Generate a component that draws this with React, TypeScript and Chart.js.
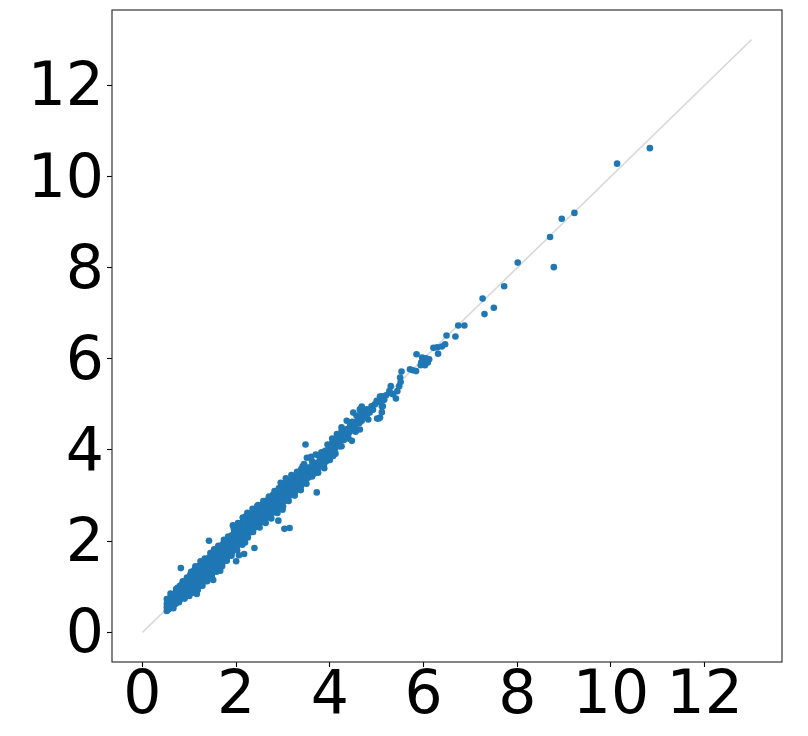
import React, { useEffect, useRef } from "react";
import { Chart, registerables } from "chart.js";

Chart.register(...registerables);

// Axis range and tick labels
const axisMin = -0.65;
const axisMax = 13.65;
const tickStep = 2;
const tickLabels = ["0", "2", "4", "6", "8", "10", "12"];

// Reference diagonal (y = x)
const diagonalX = [0, 13];
const diagonalY = [0, 13];

// Dense band, read as columns: [x, list of y values]
const bandLow: [number, number[]][] = [
  [0.52, [0.47, 0.55, 0.63, 0.73]],
  [0.55, [0.5, 0.58, 0.68]],
  [0.59, [0.53, 0.61, 0.7, 0.76]],
  [0.63, [0.56, 0.64, 0.72, 0.8]],
  [0.67, [0.6, 0.67, 0.75, 0.84]],
  [0.71, [0.63, 0.71, 0.79, 0.88]],
  [0.75, [0.67, 0.75, 0.83, 0.92, 0.98]],
  [0.8, [0.72, 0.79, 0.87, 0.95, 1.02]],
  [0.84, [0.75, 0.83, 0.91, 0.99, 1.05]],
  [0.88, [0.78, 0.86, 0.94, 1.02, 1.09]],
  [0.93, [0.81, 0.89, 0.97, 1.05, 1.13]],
  [0.97, [0.84, 0.92, 1.0, 1.08, 1.17]],
  [1.02, [0.87, 0.95, 1.03, 1.12, 1.2, 1.26]],
  [1.06, [0.9, 0.98, 1.07, 1.16, 1.24, 1.31]],
  [1.11, [0.94, 1.02, 1.11, 1.2, 1.29, 1.37]],
  [1.16, [0.97, 1.06, 1.15, 1.24, 1.33, 1.41]],
  [1.21, [1.01, 1.1, 1.19, 1.28, 1.37, 1.46]],
];

const bandMid: [number, number[]][] = [
  [1.26, [1.06, 1.15, 1.24, 1.33, 1.42, 1.5]],
  [1.31, [1.11, 1.2, 1.29, 1.38, 1.47, 1.54]],
  [1.36, [1.17, 1.26, 1.35, 1.43, 1.51, 1.58]],
  [1.41, [1.23, 1.31, 1.4, 1.48, 1.56, 1.63]],
  [1.46, [1.28, 1.36, 1.45, 1.53, 1.61, 1.68]],
  [1.51, [1.33, 1.41, 1.5, 1.58, 1.66, 1.73]],
  [1.56, [1.37, 1.46, 1.55, 1.63, 1.71, 1.78]],
  [1.61, [1.41, 1.5, 1.59, 1.68, 1.76, 1.83]],
  [1.66, [1.47, 1.56, 1.64, 1.73, 1.81, 1.88]],
  [1.71, [1.53, 1.61, 1.7, 1.78, 1.86, 1.93]],
  [1.76, [1.59, 1.67, 1.75, 1.83, 1.91, 1.98]],
  [1.81, [1.65, 1.73, 1.81, 1.89, 1.96, 2.03]],
  [1.86, [1.7, 1.78, 1.86, 1.94, 2.02, 2.08]],
  [1.91, [1.75, 1.83, 1.91, 1.99, 2.07, 2.13]],
  [1.96, [1.81, 1.89, 1.97, 2.05, 2.13, 2.2]],
];

const bandUpper: [number, number[]][] = [
  [2.01, [1.87, 1.95, 2.03, 2.11, 2.19, 2.27]],
  [2.06, [1.93, 2.01, 2.09, 2.17, 2.26, 2.34]],
  [2.11, [1.99, 2.07, 2.15, 2.23, 2.32, 2.4]],
  [2.16, [2.05, 2.13, 2.21, 2.29, 2.38, 2.46]],
  [2.21, [2.11, 2.19, 2.27, 2.35, 2.44, 2.55]],
  [2.26, [2.16, 2.24, 2.32, 2.4, 2.49, 2.56]],
  [2.31, [2.21, 2.29, 2.37, 2.45, 2.53, 2.6]],
  [2.37, [2.27, 2.35, 2.43, 2.51, 2.58, 2.65]],
  [2.43, [2.32, 2.4, 2.48, 2.56, 2.64, 2.7]],
  [2.47, [2.79]],
  [2.49, [2.37, 2.45, 2.53, 2.61, 2.69, 2.75]],
  [2.55, [2.42, 2.5, 2.58, 2.66, 2.74, 2.8]],
  [2.61, [2.47, 2.55, 2.63, 2.71, 2.79, 2.85]],
  [2.67, [2.52, 2.6, 2.68, 2.76, 2.84, 2.9]],
  [2.73, [2.57, 2.65, 2.73, 2.81, 2.89, 2.95]],
];

const bandTop: [number, number[]][] = [
  [2.79, [2.63, 2.71, 2.79, 2.87, 2.95, 3.02]],
  [2.85, [2.69, 2.77, 2.85, 2.93, 3.01, 3.09]],
  [2.91, [2.75, 2.84, 2.92, 3.0, 3.08, 3.16]],
  [2.97, [2.82, 2.9, 2.98, 3.06, 3.14, 3.22]],
  [3.03, [2.88, 2.97, 3.05, 3.13, 3.21, 3.27]],
  [3.09, [2.94, 3.03, 3.11, 3.19, 3.27, 3.32]],
  [3.15, [3.0, 3.09, 3.17, 3.25, 3.33]],
  [3.21, [3.05, 3.14, 3.22, 3.3, 3.38]],
  [3.27, [3.1, 3.19, 3.27, 3.35, 3.44]],
  [3.33, [3.15, 3.24, 3.32, 3.4, 3.48]],
  [3.39, [3.22, 3.3, 3.38, 3.46, 3.52, 3.58]],
  [3.45, [3.3, 3.37, 3.45, 3.52, 3.58, 3.69]],
  [3.51, [3.38, 3.45, 3.52, 3.6, 3.83]],
];

// Ragged edges of the dense band: [x, y]
const bandEdgeUpper: [number, number][] = [
  [0.6, 0.85], [0.72, 0.95], [0.86, 1.12], [0.95, 1.2], [1.04, 1.33], [1.13, 1.45],
  [1.24, 1.56], [1.33, 1.62], [1.45, 1.74], [1.53, 1.82], [1.62, 1.9], [1.74, 2.03],
  [1.83, 2.1], [1.95, 2.27], [2.04, 2.4], [2.14, 2.52], [2.24, 2.62], [2.35, 2.71],
  [2.45, 2.77], [2.58, 2.88], [2.7, 2.98], [2.82, 3.1], [2.95, 3.28], [3.06, 3.38],
  [3.18, 3.45], [3.3, 3.52], [3.42, 3.64], [3.6, 3.85], [3.7, 3.9], [3.82, 3.95],
  [3.95, 4.12], [4.05, 4.25], [4.15, 4.35], [4.25, 4.5],
];

const bandEdgeLower: [number, number][] = [
  [0.66, 0.53], [0.78, 0.66], [0.9, 0.74], [1.0, 0.8], [1.08, 0.87], [1.18, 0.93],
  [1.28, 1.02], [1.38, 1.12], [1.48, 1.24], [1.58, 1.33], [1.7, 1.45], [1.8, 1.57],
  [1.9, 1.68], [2.02, 1.8], [2.13, 1.92], [2.25, 2.08], [2.36, 2.2], [2.5, 2.3],
  [2.63, 2.4], [2.75, 2.5], [2.88, 2.62], [3.0, 2.76], [3.12, 2.88], [3.25, 3.0],
  [3.38, 3.12], [3.5, 3.26], [3.62, 3.42], [3.75, 3.5], [3.88, 3.6], [4.0, 3.78],
  [4.12, 3.92], [4.25, 4.08], [4.4, 4.25], [4.55, 4.4],
];

// Sparser upper tail: [x, y]
const tailPoints: [number, number][] = [
  [3.55, 3.4], [3.56, 3.62], [3.58, 3.54], [3.6, 3.5], [3.62, 3.75], [3.65, 3.65],
  [3.66, 3.48], [3.68, 3.58], [3.7, 3.65], [3.72, 3.72], [3.74, 3.56], [3.76, 3.88],
  [3.79, 3.8], [3.8, 3.68], [3.83, 3.65], [3.85, 3.78], [3.86, 3.87], [3.88, 3.7],
  [3.9, 3.98], [3.92, 3.86], [3.93, 3.76], [3.95, 3.95], [3.97, 4.02], [3.98, 3.82],
  [4.0, 3.91], [4.02, 3.98], [4.04, 4.09], [4.05, 4.15], [4.07, 3.87], [4.07, 4.2],
  [4.1, 3.98], [4.11, 4.05], [4.13, 4.12], [4.15, 4.27], [4.16, 4.22], [4.18, 4.16],
  [4.2, 4.08], [4.22, 4.31], [4.23, 4.2], [4.25, 4.42], [4.27, 4.35], [4.29, 4.27],
  [4.3, 4.22], [4.32, 4.45], [4.34, 4.3], [4.36, 4.38], [4.36, 4.64], [4.38, 4.46],
  [4.4, 4.36], [4.43, 4.53], [4.45, 4.42], [4.48, 4.62], [4.5, 4.82], [4.52, 4.48],
  [4.54, 4.53], [4.56, 4.6], [4.57, 4.75], [4.6, 4.7], [4.63, 4.59], [4.64, 4.45],
  [4.64, 4.89], [4.66, 4.82], [4.68, 4.64], [4.68, 4.95], [4.72, 4.72], [4.75, 4.85],
  [4.79, 4.78], [4.79, 4.89], [4.82, 4.67], [4.85, 4.82], [4.89, 4.96], [4.92, 4.88],
  [4.96, 5.0], [5.0, 5.08], [5.01, 4.69], [5.04, 4.69], [5.06, 5.05], [5.07, 5.17],
  [5.07, 4.71], [5.11, 4.96], [5.11, 4.83], [5.11, 5.18], [5.13, 4.96], [5.16, 5.1],
  [5.2, 5.2], [5.27, 5.29], [5.3, 5.4], [5.32, 5.24], [5.35, 5.22], [5.41, 5.13],
  [5.44, 5.29], [5.48, 5.4], [5.5, 5.59], [5.51, 5.49], [5.53, 5.72], [5.71, 5.77],
  [5.77, 5.75], [5.84, 5.73], [5.85, 6.1], [5.94, 5.86], [5.95, 5.92], [5.97, 6.03],
  [6.01, 5.95], [6.03, 5.86], [6.05, 6.01], [6.09, 5.92], [6.12, 5.99], [6.21, 6.24],
  [6.29, 6.25], [6.31, 6.11], [6.39, 6.27], [6.46, 6.32], [6.49, 6.51], [6.68, 6.49],
  [6.74, 6.73], [6.87, 6.73], [7.26, 7.32], [7.3, 6.98], [7.5, 7.12], [7.72, 7.59],
  [8.01, 8.11], [8.7, 8.67], [8.78, 8.01], [8.95, 9.07], [9.22, 9.2], [10.13, 10.28],
  [10.83, 10.62],
];

// Isolated points away from the band: [x, y]
const outlierPoints: [number, number][] = [
  [0.82, 1.41], [1.16, 0.84], [1.42, 2.01], [1.51, 1.15], [1.66, 1.35], [2.0, 1.56],
  [2.06, 1.69], [2.17, 1.72], [2.19, 1.97], [1.93, 2.35], [2.39, 1.85], [2.9, 2.45],
  [2.99, 2.69], [3.03, 2.27], [3.14, 2.29], [3.72, 3.07], [3.48, 4.12], [4.47, 4.2],
];

function buildPoints() {
  const pts: { x: number; y: number }[] = [];
  [bandLow, bandMid, bandUpper, bandTop].forEach((cols) =>
    cols.forEach(([x, ys]) => ys.forEach((y) => pts.push({ x, y })))
  );
  [bandEdgeUpper, bandEdgeLower, tailPoints, outlierPoints].forEach((list) =>
    list.forEach(([x, y]) => pts.push({ x, y }))
  );
  return pts;
}

export default function App() {
  const ref = useRef<HTMLCanvasElement | null>(null);

  useEffect(() => {
    if (!ref.current) return;
    const font = { family: "'DejaVu Sans', sans-serif", size: 60, lineHeight: 1 };
    const axisCommon = (isX: boolean) => ({
      type: "linear" as const,
      min: axisMin,
      max: axisMax,
      grid: {
        display: true,
        drawOnChartArea: false,
        drawTicks: true,
        tickLength: 5,
        tickColor: "#000",
        tickWidth: 1.1,
        color: "#000",
      },
      border: { display: false },
      ticks: {
        stepSize: tickStep,
        includeBounds: false,
        color: "#000",
        font,
        padding: isX ? 0.5 : 3,
        labelOffset: isX ? 0 : 4.5,
        maxRotation: 0,
        autoSkip: false,
        callback: (v: number) => {
          const idx = Math.round(v / tickStep);
          return tickLabels[idx] ?? String(v);
        },
      },
      afterFit: (scale: any) => {
        if (isX) {
          scale.height = 74;
          scale.paddingLeft = 0;
          scale.paddingRight = 0;
        } else {
          scale.width = 112;
          scale.paddingTop = 0;
          scale.paddingBottom = 0;
        }
      },
    });

    const framePlugin = {
      id: "frame",
      afterDraw(chart: any) {
        const { ctx, chartArea } = chart;
        ctx.save();
        ctx.strokeStyle = "#222";
        ctx.lineWidth = 1.1;
        ctx.strokeRect(
          chartArea.left,
          chartArea.top,
          chartArea.right - chartArea.left,
          chartArea.bottom - chartArea.top
        );
        ctx.restore();
      },
    };

    const chart = new Chart(ref.current, {
      type: "scatter",
      data: {
        datasets: [
          {
            data: buildPoints(),
            backgroundColor: "#1f77b4",
            borderWidth: 0,
            pointRadius: 3.3,
            pointHoverRadius: 3.3,
            order: 0,
          },
          {
            data: diagonalX.map((x, i) => ({ x, y: diagonalY[i] })),
            showLine: true,
            borderColor: "#d9d9d9",
            borderWidth: 1.5,
            pointRadius: 0,
            order: 1,
          },
        ],
      },
      options: {
        responsive: false,
        animation: false,
        devicePixelRatio: 1,
        layout: { padding: { top: 10, right: 26, left: 0, bottom: 0 } },
        plugins: { legend: { display: false }, tooltip: { enabled: false } },
        scales: { x: axisCommon(true) as any, y: axisCommon(false) as any },
      },
      plugins: [framePlugin],
    });
    return () => chart.destroy();
  }, []);

  return (
    <div style={{ position: "absolute", left: 0, top: 0, width: 808, height: 736, background: "#fff" }}>
      <canvas ref={ref} width={808} height={736} style={{ width: 808, height: 736 }} />
    </div>
  );
}
